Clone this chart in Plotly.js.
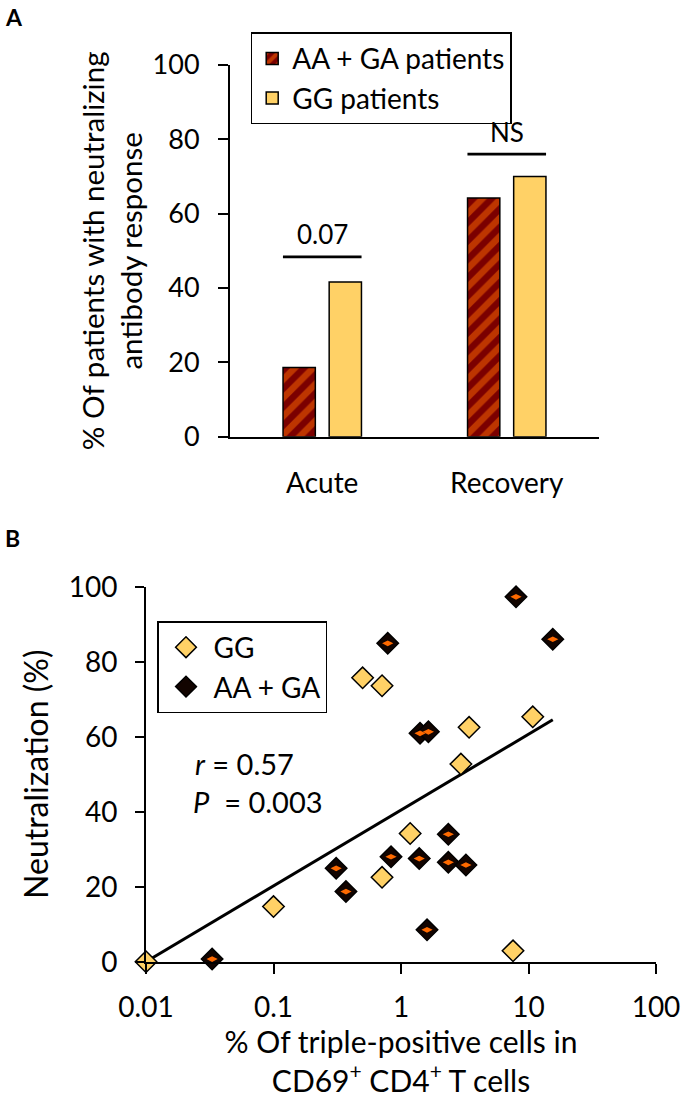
<!DOCTYPE html>
<html>
<head>
<meta charset="utf-8">
<script src="https://cdn.plot.ly/plotly-3.0.1.min.js"></script>
<style>
  html, body { margin: 0; padding: 0; background: #fff; }
  #plot { width: 684px; height: 1098px; }
</style>
</head>
<body>
<div id="plot"></div>
<script>
/* ---------- Panel A data ---------- */
const barCategories = ['Acute', 'Recovery'];
const barAAGA = [18.6, 64.2];
const barGG = [41.6, 70];
const sigLevels = [48.4, 76];
const sigLabels = ['0.07', 'NS'];

/* ---------- Panel B data ---------- */
const ggX = [0.01, 0.1, 0.5, 0.71, 0.71, 1.18, 2.95, 3.42, 10.8, 7.56];
const ggY = [0, 14.7, 75.7, 73.6, 22.5, 34.2, 52.7, 62.5, 65.3, 2.9];
const aaX = [0.033, 0.31, 0.37, 0.835, 1.39, 2.35, 2.35, 3.23, 1.6, 0.787, 1.41, 1.64, 7.98, 15.5];
const aaY = [0.7, 24.9, 18.7, 28, 27.5, 34, 26.5, 25.8, 8.5, 84.9, 60.9, 61.3, 97.3, 86];
const fitX = [0.01, 15.5];
const fitY = [0, 64.5];
const logTicks = [0.01, 0.1, 1, 10, 100];
const logTickText = ['0.01', '0.1', '1', '10', '100'];

const FONT = 'Lato, "Open Sans", sans-serif';
const GG_COLOR = '#ffd166';
const DARK_RED = '#7b0000';
const ORANGE = '#ff6a00';

// page is 684x1098 with zero margins, so domains come straight from pixels
const W = 684, H = 1098;
const px = v => v / W;
const py = v => 1 - v / H;

const traces = [
  {
    type: 'bar', x: barCategories, y: barAAGA, name: 'AA + GA patients',
    xaxis: 'x', yaxis: 'y', legend: 'legend',
    marker: {
      color: DARK_RED,
      line: { color: '#000', width: 1.5 },
      pattern: { shape: '/', fgcolor: ORANGE, bgcolor: DARK_RED, size: 13, solidity: 0.5, fillmode: 'overlay' }
    },
    hoverinfo: 'y'
  },
  {
    type: 'bar', x: barCategories, y: barGG, name: 'GG patients',
    xaxis: 'x', yaxis: 'y', legend: 'legend',
    marker: { color: GG_COLOR, line: { color: '#000', width: 1.5 } },
    hoverinfo: 'y'
  },
  // regression line
  {
    type: 'scatter', mode: 'lines', x: fitX, y: fitY,
    xaxis: 'x2', yaxis: 'y2', showlegend: false,
    line: { color: '#000', width: 3 }, hoverinfo: 'skip', cliponaxis: false
  },
  {
    type: 'scatter', mode: 'markers', x: ggX, y: ggY, name: 'GG',
    xaxis: 'x2', yaxis: 'y2', legend: 'legend2', cliponaxis: false,
    marker: { symbol: 'diamond', size: 16.5, color: GG_COLOR, line: { color: '#000', width: 1.5 } }
  },
  {
    type: 'scatter', mode: 'markers', x: aaX, y: aaY, name: 'AA + GA',
    xaxis: 'x2', yaxis: 'y2', legend: 'legend2', cliponaxis: false,
    marker: { symbol: 'diamond', size: 16.5, color: '#120400', line: { color: '#000', width: 1.5 } }
  },
  // orange core of the AA + GA markers
  {
    type: 'scatter', mode: 'markers', x: aaX, y: aaY,
    xaxis: 'x2', yaxis: 'y2', showlegend: false, cliponaxis: false, hoverinfo: 'skip',
    marker: { symbol: 'diamond-wide', size: 8, color: ORANGE, line: { width: 0 } }
  }
];

const shapes = sigLevels.map((lvl, i) => ({
  type: 'line', xref: 'x', yref: 'y',
  x0: i - 0.213, x1: i + 0.213, y0: lvl, y1: lvl,
  line: { color: '#000', width: 2.8 }
}));

const annotations = sigLabels.map((t, i) => ({
  xref: 'x', yref: 'y', x: i, y: sigLevels[i] + 1.2,
  text: t, showarrow: false, yanchor: 'bottom',
  font: { family: FONT, size: 26, color: '#000' }
}));

annotations.push(
  { xref: 'paper', yref: 'paper', x: px(3), y: py(1), xanchor: 'left', yanchor: 'top',
    text: '<b>A</b>', showarrow: false, font: { family: FONT, size: 23, color: '#000' } },
  { xref: 'paper', yref: 'paper', x: px(3), y: py(522), xanchor: 'left', yanchor: 'top',
    text: '<b>B</b>', showarrow: false, font: { family: FONT, size: 23, color: '#000' } },
  { xref: 'paper', yref: 'paper', x: px(193), y: py(763), xanchor: 'left', yanchor: 'middle',
    text: '<i>r</i> = 0.57', showarrow: false, font: { family: FONT, size: 29, color: '#000' } },
  { xref: 'paper', yref: 'paper', x: px(191), y: py(801), xanchor: 'left', yanchor: 'middle',
    text: '<i>P</i>  = 0.003', showarrow: false, font: { family: FONT, size: 29, color: '#000' } }
);

const axisLine = { showline: true, linecolor: '#000', linewidth: 2, showgrid: false, zeroline: false };

const layout = {
  width: W, height: H,
  margin: { l: 0, r: 0, t: 0, b: 0 },
  paper_bgcolor: '#fff', plot_bgcolor: '#fff',
  font: { family: FONT, color: '#000' },
  barmode: 'group', bargap: 0.5, bargroupgap: 0.3,
  xaxis: Object.assign({}, axisLine, {
    domain: [px(230), px(599)], anchor: 'y',
    range: [-0.5, 1.5], ticks: '',
    tickfont: { family: FONT, size: 28 }, ticklabelstandoff: 21
  }),
  yaxis: Object.assign({}, axisLine, {
    domain: [py(436.7), py(65)], anchor: 'x',
    range: [0, 100], tickvals: [0, 20, 40, 60, 80, 100],
    ticks: 'outside', ticklen: 10, tickwidth: 2, tickcolor: '#000',
    tickfont: { family: FONT, size: 27 }, ticklabelstandoff: 13,
    title: { text: '% Of patients with neutralizing<br>antibody response', standoff: 1,
             font: { family: FONT, size: 29.5 } }
  }),
  xaxis2: Object.assign({}, axisLine, {
    domain: [px(146), px(656)], anchor: 'y2',
    type: 'log', range: [-2, 2], tickvals: logTicks, ticktext: logTickText,
    ticks: 'outside', ticklen: 10, tickwidth: 2, tickcolor: '#000',
    tickfont: { family: FONT, size: 28 }, ticklabelstandoff: 10,
    title: { text: '% Of triple-positive cells in<br>CD69<sup>+</sup> CD4<sup>+</sup> T cells', standoff: 12,
             font: { family: FONT, size: 30 } }
  }),
  yaxis2: Object.assign({}, axisLine, {
    domain: [py(961.7), py(586.7)], anchor: 'x2',
    range: [0, 100], tickvals: [0, 20, 40, 60, 80, 100],
    ticks: 'outside', ticklen: 9, tickwidth: 2, tickcolor: '#000',
    tickfont: { family: FONT, size: 28 }, ticklabelstandoff: 12,
    title: { text: 'Neutralization (%)', standoff: 10, font: { family: FONT, size: 32 } }
  }),
  legend: {
    x: px(250.7), y: py(32.3), xanchor: 'left', yanchor: 'top',
    bgcolor: '#fff', bordercolor: '#000', borderwidth: 1.5,
    font: { family: FONT, size: 28, color: '#000' }, tracegroupgap: 0
  },
  legend2: {
    x: px(157), y: py(621), xanchor: 'left', yanchor: 'top',
    bgcolor: '#fff', bordercolor: '#000', borderwidth: 1.5, itemwidth: 45,
    font: { family: FONT, size: 28, color: '#000' }, tracegroupgap: 0
  },
  shapes: shapes,
  annotations: annotations,
  showlegend: true
};

Plotly.newPlot('plot', traces, layout, { displayModeBar: false, staticPlot: true });
</script>
</body>
</html>
